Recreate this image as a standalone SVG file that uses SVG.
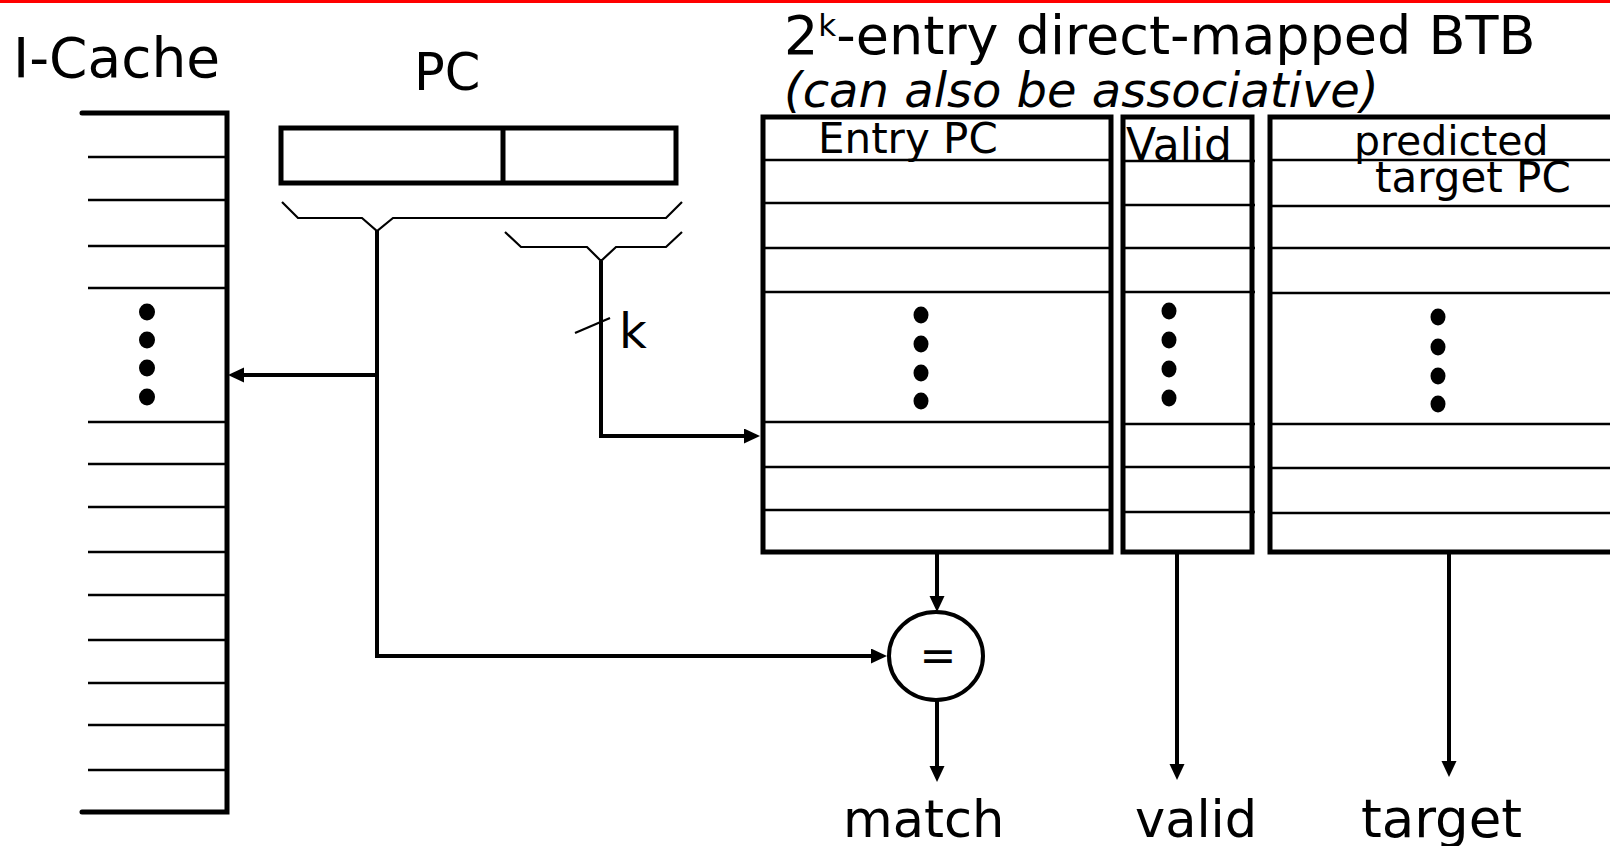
<svg xmlns="http://www.w3.org/2000/svg" width="1610" height="846" viewBox="0 0 1610 846">
<style>
text{font-family:"DejaVu Sans","Liberation Sans",sans-serif;fill:#000}
.thick{fill:none;stroke:#000;stroke-width:5}
.thin{fill:none;stroke:#000;stroke-width:2.5}
.wire{fill:none;stroke:#000;stroke-width:4}
.brace{fill:none;stroke:#000;stroke-width:2.2}
.dot{fill:#000}
</style>
<defs>
<marker id="ah" markerUnits="userSpaceOnUse" markerWidth="18" markerHeight="16" refX="8" refY="7.5" orient="auto">
<path d="M0,0 L16,7.5 L0,15 z" fill="#000"/>
</marker>
</defs>
<rect x="0" y="0" width="1610" height="3" fill="#ff0000"/>

<g id="icache">
<text x="13" y="77" font-size="55">I-Cache</text>
<path class="thick" d="M82,113 H227 V812 H82" stroke-linecap="round"/>
<path class="thin" d="M88,157H227M88,200H227M88,246H227M88,288H227M88,422H227M88,464H227M88,507H227M88,552H227M88,595H227M88,640H227M88,683H227M88,725H227M88,770H227"/>
<ellipse class="dot" cx="147" cy="312" rx="8" ry="8.5"/>
<ellipse class="dot" cx="147" cy="340" rx="8" ry="8.5"/>
<ellipse class="dot" cx="147" cy="368" rx="8" ry="8.5"/>
<ellipse class="dot" cx="147" cy="397" rx="8" ry="8.5"/>
</g>

<g id="pc">
<text x="414" y="90" font-size="51">PC</text>
<rect class="thick" x="281" y="128" width="395" height="55"/>
<line class="thick" x1="503" y1="128" x2="503" y2="183"/>
<path class="brace" d="M282,202 L298,218 H362 L377,231 L393,218 H666 L682,202"/>
<path class="brace" d="M505,232 L521,247 H587 L601,261 L616,247 H666 L682,232"/>
</g>

<g id="title">
<text x="784" y="54" font-size="54">2<tspan font-size="31" dy="-18">k</tspan><tspan dy="18">-entry direct-mapped BTB</tspan></text>
<text x="784" y="107" font-size="48" font-style="italic">(can also be associative)</text>
</g>

<g id="entrypc">
<rect class="thick" x="763" y="117" width="348" height="435"/>
<text x="818" y="153" font-size="42">Entry PC</text>
<path class="thin" d="M763,160H1111M763,203H1111M763,248H1111M763,292H1111M763,422H1111M763,467H1111M763,510H1111"/>
<ellipse class="dot" cx="921" cy="315" rx="7.5" ry="8.5"/>
<ellipse class="dot" cx="921" cy="344" rx="7.5" ry="8.5"/>
<ellipse class="dot" cx="921" cy="373" rx="7.5" ry="8.5"/>
<ellipse class="dot" cx="921" cy="401" rx="7.5" ry="8.5"/>
</g>

<g id="valid">
<rect class="thick" x="1123" y="117" width="129" height="435"/>
<text x="1126" y="160" font-size="44">Valid</text>
<path class="thin" d="M1123,161H1255M1123,205H1255M1123,248H1255M1123,292H1255M1123,424H1255M1123,467H1255M1123,512H1255"/>
<ellipse class="dot" cx="1169" cy="311" rx="7.5" ry="8.5"/>
<ellipse class="dot" cx="1169" cy="340" rx="7.5" ry="8.5"/>
<ellipse class="dot" cx="1169" cy="369" rx="7.5" ry="8.5"/>
<ellipse class="dot" cx="1169" cy="398" rx="7.5" ry="8.5"/>
</g>

<g id="target">
<rect class="thick" x="1270" y="117" width="360" height="435"/>
<text x="1354" y="155" font-size="41">predicted</text>
<text x="1375" y="192" font-size="42">target PC</text>
<path class="thin" d="M1270,160H1610M1270,206H1610M1270,248H1610M1270,293H1610M1270,424H1610M1270,468H1610M1270,513H1610"/>
<ellipse class="dot" cx="1438" cy="317" rx="7.5" ry="8.5"/>
<ellipse class="dot" cx="1438" cy="347" rx="7.5" ry="8.5"/>
<ellipse class="dot" cx="1438" cy="376" rx="7.5" ry="8.5"/>
<ellipse class="dot" cx="1438" cy="404" rx="7.5" ry="8.5"/>
</g>

<g id="compare">
<ellipse cx="936" cy="656" rx="47" ry="44" fill="#fff" stroke="#000" stroke-width="4"/>
<text x="938" y="671" font-size="44" text-anchor="middle">=</text>
</g>

<g id="labels">
<text x="619" y="348" font-size="48">k</text>
<text x="843" y="837" font-size="51">match</text>
<text x="1135" y="837" font-size="51">valid</text>
<text x="1361" y="837" font-size="53">target</text>
</g>

<g id="connectors">
<path class="wire" d="M377,231 V656 H879" marker-end="url(#ah)"/>
<path class="wire" d="M377,375 H236" marker-end="url(#ah)"/>
<path class="wire" d="M601,261 V436 H752" marker-end="url(#ah)"/>
<line class="brace" x1="575" y1="333" x2="610" y2="318"/>
<path class="wire" d="M937,552 V604" marker-end="url(#ah)"/>
<path class="wire" d="M937,700 V774" marker-end="url(#ah)"/>
<path class="wire" d="M1177,552 V772" marker-end="url(#ah)"/>
<path class="wire" d="M1449,552 V769" marker-end="url(#ah)"/>
</g>
</svg>
